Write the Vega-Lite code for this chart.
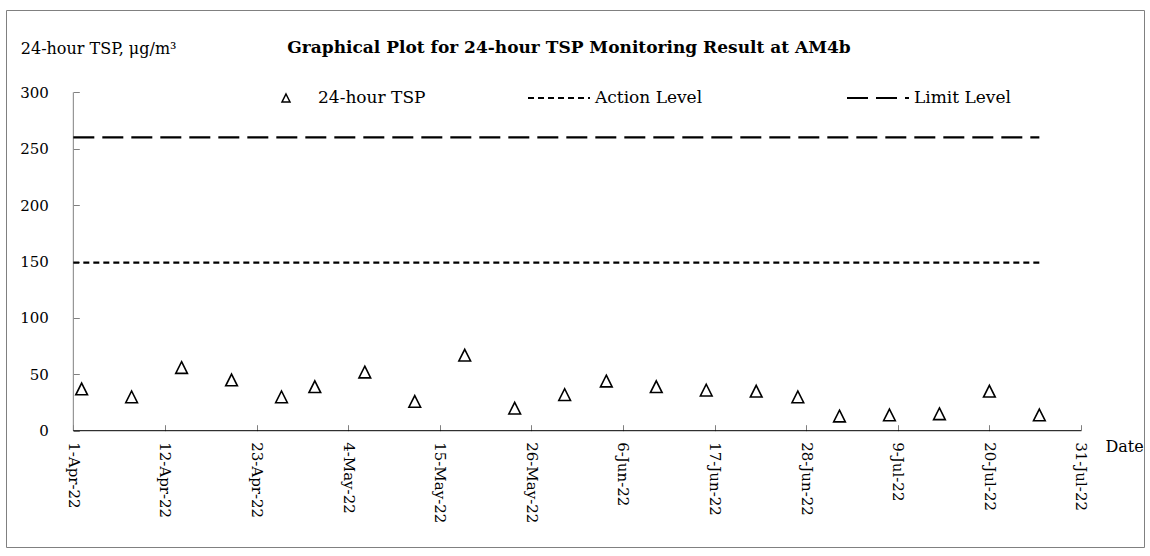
{
  "$schema": "https://vega.github.io/schema/vega-lite/v6.json",
  "width": 1138,
  "height": 537,
  "autosize": "none",
  "padding": {"left": 6, "top": 10, "right": 6, "bottom": 9},
  "background": "white",
  "config": {
    "font": "DejaVu Serif",
    "view": {"stroke": "#808080", "strokeWidth": 1},
    "axis": {"grid": false, "domain": false, "labelFont": "DejaVu Serif", "labelFontSize": 15, "labelColor": "black", "tickColor": "#808080", "tickWidth": 1, "titleFont": "DejaVu Serif", "titleFontWeight": "normal", "titleColor": "black", "titleFontSize": 16},
    "legend": {"padding": 0, "labelFont": "DejaVu Serif", "labelFontSize": 17, "labelColor": "black"}
  },
  "title": {
    "text": "Graphical Plot for 24-hour TSP Monitoring Result at AM4b",
    "font": "DejaVu Serif", "fontSize": 17, "fontWeight": "bold", "color": "black",
    "anchor": "middle", "frame": "group", "offset": 0, "baseline": "alphabetic", "dy": 60, "dx": -6
  },
  "datasets": {
    "tsp": [
      {"date": "2022-04-02", "value": 37, "series": "24-hour TSP"},
      {"date": "2022-04-08", "value": 30, "series": "24-hour TSP"},
      {"date": "2022-04-14", "value": 56, "series": "24-hour TSP"},
      {"date": "2022-04-20", "value": 45, "series": "24-hour TSP"},
      {"date": "2022-04-26", "value": 30, "series": "24-hour TSP"},
      {"date": "2022-04-30", "value": 39, "series": "24-hour TSP"},
      {"date": "2022-05-06", "value": 52, "series": "24-hour TSP"},
      {"date": "2022-05-12", "value": 26, "series": "24-hour TSP"},
      {"date": "2022-05-18", "value": 67, "series": "24-hour TSP"},
      {"date": "2022-05-24", "value": 20, "series": "24-hour TSP"},
      {"date": "2022-05-30", "value": 32, "series": "24-hour TSP"},
      {"date": "2022-06-04", "value": 44, "series": "24-hour TSP"},
      {"date": "2022-06-10", "value": 39, "series": "24-hour TSP"},
      {"date": "2022-06-16", "value": 36, "series": "24-hour TSP"},
      {"date": "2022-06-22", "value": 35, "series": "24-hour TSP"},
      {"date": "2022-06-27", "value": 30, "series": "24-hour TSP"},
      {"date": "2022-07-02", "value": 13, "series": "24-hour TSP"},
      {"date": "2022-07-08", "value": 14, "series": "24-hour TSP"},
      {"date": "2022-07-14", "value": 15, "series": "24-hour TSP"},
      {"date": "2022-07-20", "value": 35, "series": "24-hour TSP"},
      {"date": "2022-07-26", "value": 14, "series": "24-hour TSP"}
    ],
    "levels": [
      {"date": "2022-04-01", "value": 149, "level_name": "Action Level"},
      {"date": "2022-07-26", "value": 149, "level_name": "Action Level"},
      {"date": "2022-04-01", "value": 260, "level_name": "Limit Level"},
      {"date": "2022-07-26", "value": 260, "level_name": "Limit Level"}
    ],
    "yline": [{"date": "2022-04-01", "value": 0, "value2": 300}],
    "xline": [{"date": "2022-04-01", "date2": "2022-07-31", "value": 0}]
  },
  "encoding": {
    "x": {
      "field": "date", "type": "temporal",
      "scale": {"type": "utc", "nice": false, "domain": [
        {"year": 2022, "month": 3, "date": 23, "hours": 22, "utc": true},
        {"year": 2022, "month": 8, "date": 7, "hours": 13, "minutes": 34, "utc": true}
      ]},
      "axis": {
        "orient": "bottom", "offset": -116.3,
        "values": [
          {"year": 2022, "month": 4, "date": 1, "utc": true},
          {"year": 2022, "month": 4, "date": 12, "utc": true},
          {"year": 2022, "month": 4, "date": 23, "utc": true},
          {"year": 2022, "month": 5, "date": 4, "utc": true},
          {"year": 2022, "month": 5, "date": 15, "utc": true},
          {"year": 2022, "month": 5, "date": 26, "utc": true},
          {"year": 2022, "month": 6, "date": 6, "utc": true},
          {"year": 2022, "month": 6, "date": 17, "utc": true},
          {"year": 2022, "month": 6, "date": 28, "utc": true},
          {"year": 2022, "month": 7, "date": 9, "utc": true},
          {"year": 2022, "month": 7, "date": 20, "utc": true},
          {"year": 2022, "month": 7, "date": 31, "utc": true}
        ],
        "format": "%-d-%b-%y", "labelAngle": 90, "tickSize": -6, "labelPadding": 17,
        "labelOverlap": false, "labelBound": false, "labelFlush": false,
        "title": "Date", "titleX": 1099, "titleY": 21, "titleAlign": "left", "titleBaseline": "alphabetic"
      }
    },
    "y": {
      "field": "value", "type": "quantitative",
      "scale": {"domain": [-103.1, 372.96], "nice": false, "zero": false},
      "axis": {
        "orient": "left", "offset": -67.3, "values": [0, 50, 100, 150, 200, 250, 300],
        "tickSize": -6, "labelPadding": 31,
        "title": "24-hour TSP, μg/m³", "titleAngle": 0, "titleAlign": "left", "titleBaseline": "alphabetic",
        "titleX": -53, "titleY": 43
      }
    }
  },
  "layer": [
    {
      "data": {"name": "yline"},
      "mark": {"type": "rule", "color": "#808080", "strokeWidth": 1},
      "encoding": {"y2": {"field": "value2"}}
    },
    {
      "data": {"name": "xline"},
      "mark": {"type": "rule", "color": "black", "strokeWidth": 1},
      "encoding": {"x2": {"field": "date2"}}
    },
    {
      "data": {"name": "levels"},
      "mark": {"type": "line", "color": "black", "strokeWidth": 2.2},
      "encoding": {
        "strokeDash": {
          "field": "level_name", "type": "nominal",
          "scale": {"domain": ["Action Level", "Limit Level"], "range": [[6, 4], [21, 8]]},
          "legend": {
            "title": null, "orient": "none", "direction": "horizontal",
            "legendX": 521, "legendY": 56,
            "symbolType": "stroke", "symbolSize": 3844, "symbolStrokeWidth": 2, "symbolStrokeColor": "black",
            "labelOffset": 4, "columnPadding": 140
          }
        }
      }
    },
    {
      "data": {"name": "tsp"},
      "mark": {"type": "point", "filled": false, "color": "black", "strokeWidth": 1.6, "size": 137, "opacity": 1},
      "encoding": {
        "shape": {
          "field": "series", "type": "nominal",
          "scale": {"domain": ["24-hour TSP"], "range": ["M0,-1L1,1L-1,1Z"]},
          "legend": {
            "title": null, "orient": "none", "legendX": 271.5, "legendY": 79.5,
            "symbolSize": 64, "symbolStrokeWidth": 1.5, "symbolStrokeColor": "black", "symbolFillColor": "transparent",
            "labelOffset": 23.5
          }
        }
      }
    }
  ]
}
